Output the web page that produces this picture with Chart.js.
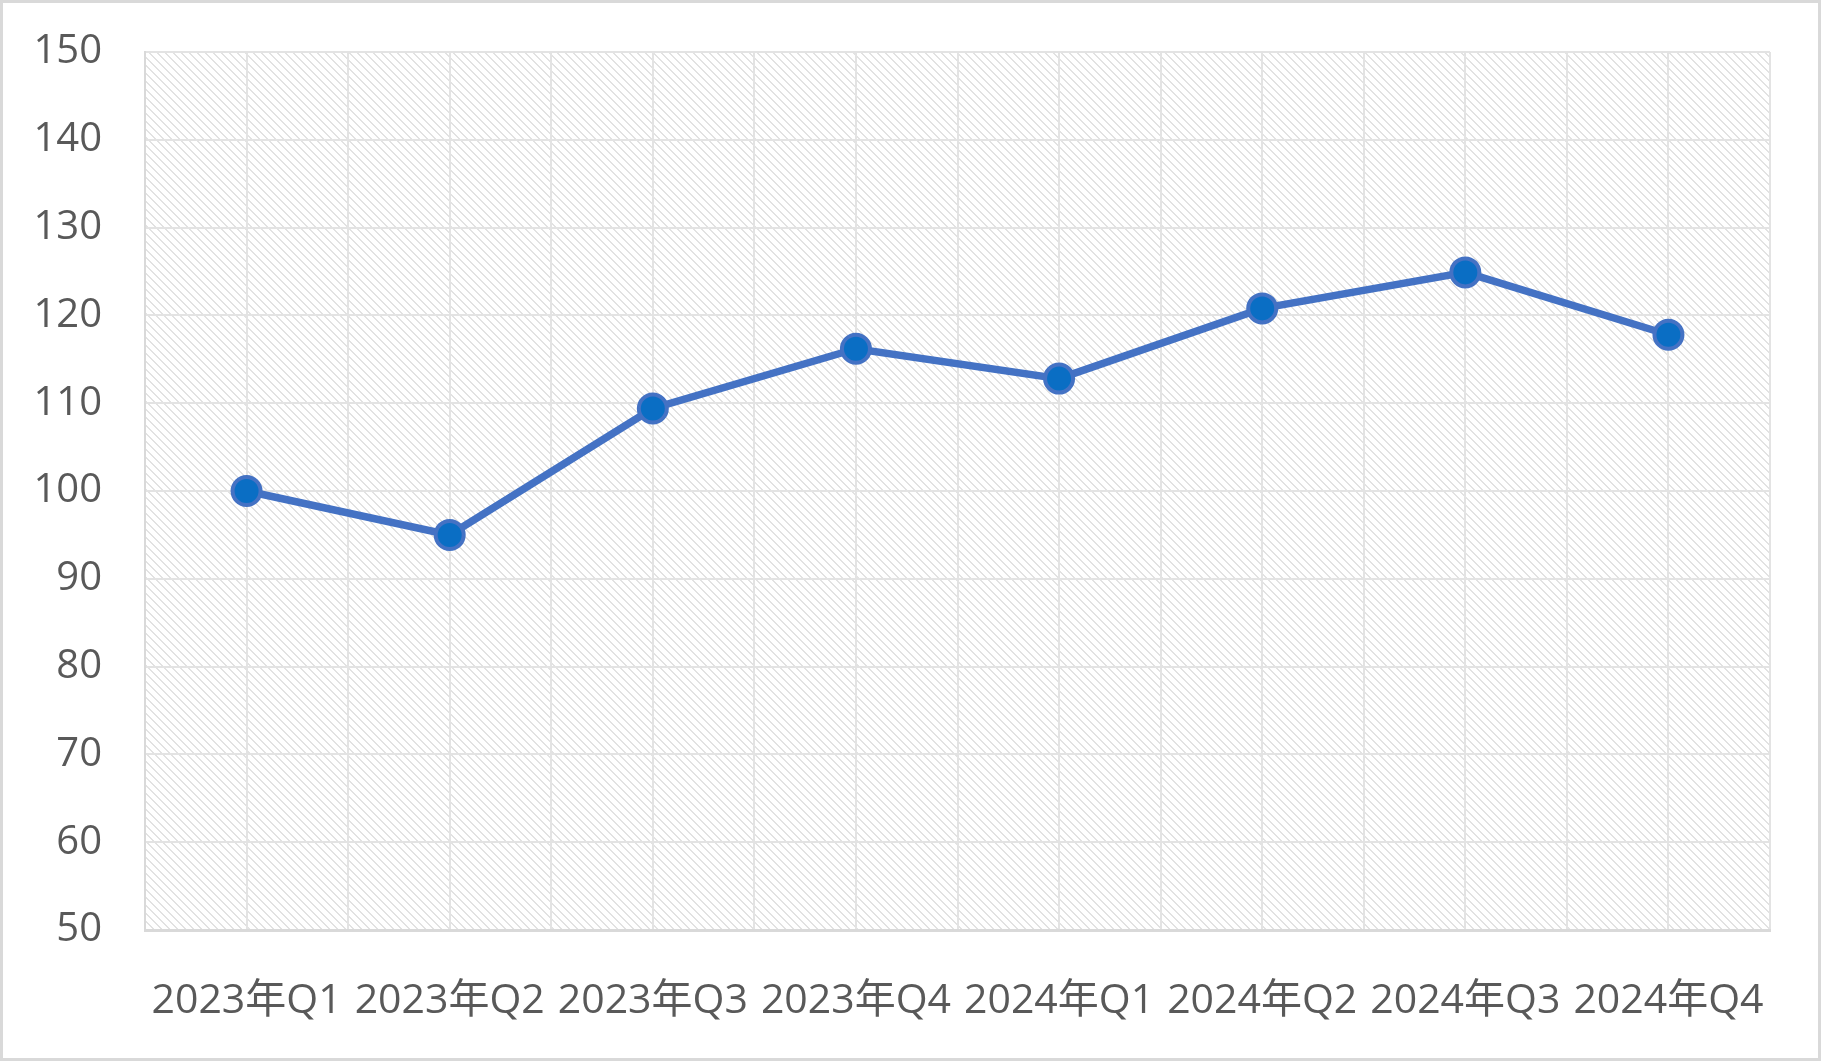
<!DOCTYPE html>
<html>
<head>
<meta charset="utf-8">
<script src="https://cdn.jsdelivr.net/npm/chart.js@4/dist/chart.umd.min.js"></script>
<style>
  html, body { margin: 0; padding: 0; background: #fff; }
  #wrap {
    width: 1821px; height: 1061px; box-sizing: border-box;
    border: 3px solid #d9d9d9; background: #fff;
  }
  canvas { display: block; }
</style>
</head>
<body>
<div id="wrap"><canvas id="chart" width="1815" height="1055"></canvas></div>
<script>
// ข้อมูล
const QUARTERS = ['2023年Q1', '2023年Q2', '2023年Q3', '2023年Q4', '2024年Q1', '2024年Q2', '2024年Q3', '2024年Q4'];
const VALUES = [100, 95, 109.4, 116.2, 112.8, 120.8, 124.9, 117.8];
const Y_MIN = 50;
const Y_MAX = 150;
const Y_STEP = 10;

// สี
const COLORS = {
  line: '#4472c4',
  point: '#0a6ec4',
  grid: '#e3e3e3',
  axis: '#d9d9d9',
  hatch: '#e2e2e2',
  text: '#595959'
};

const FONT = { family: '"Open Sans", "Noto Sans CJK SC", sans-serif', size: 40 };

// ลายเส้นทแยงพื้นหลัง
function makeHatch() {
  const c = document.createElement('canvas');
  c.width = 8;
  c.height = 8;
  const g = c.getContext('2d');
  g.fillStyle = COLORS.hatch;
  for (let y = 0; y < 8; y++) {
    g.fillRect(y % 8, y, 1, 1);
    g.fillRect((y + 1) % 8, y, 1, 1);
  }
  return g.createPattern(c, 'repeat');
}

const hatchBg = {
  id: 'hatchBg',
  beforeDraw(chart) {
    const { ctx, chartArea: a } = chart;
    ctx.save();
    ctx.fillStyle = makeHatch();
    ctx.fillRect(a.left, a.top, a.right - a.left, a.bottom - a.top);
    ctx.restore();
  }
};

const points = VALUES.map((v, i) => ({ x: i, y: v }));

new Chart(document.getElementById('chart'), {
  type: 'line',
  data: {
    datasets: [{
      data: points,
      borderColor: COLORS.line,
      borderWidth: 7.5,
      tension: 0,
      pointRadius: 14,
      pointHoverRadius: 14,
      pointBackgroundColor: COLORS.point,
      pointBorderColor: COLORS.line,
      pointBorderWidth: 4
    }]
  },
  options: {
    responsive: false,
    animation: false,
    events: [],
    layout: { padding: { top: 49, right: 48, left: 0, bottom: 0 } },
    plugins: { legend: { display: false }, tooltip: { enabled: false } },
    scales: {
      x: {
        type: 'linear',
        min: -0.5,
        max: QUARTERS.length - 0.5,
        afterBuildTicks(scale) {
          const t = [];
          for (let v = -0.5; v <= QUARTERS.length - 0.5 + 1e-9; v += 0.5) t.push({ value: v });
          scale.ticks = t;
        },
        afterFit(scale) { scale.height = 128; },
        grid: { color: COLORS.grid, lineWidth: 2, drawTicks: false },
        border: { color: COLORS.axis, width: 3 },
        ticks: {
          autoSkip: false,
          maxRotation: 0,
          padding: 47,
          color: COLORS.text,
          font: { family: FONT.family, size: 41 },
          callback: v => Number.isInteger(v) ? QUARTERS[v] : ''
        }
      },
      y: {
        min: Y_MIN,
        max: Y_MAX,
        afterFit(scale) {
          scale.width = 142;
          scale.paddingTop = 0;
          scale.paddingBottom = 0;
        },
        grid: { color: COLORS.grid, lineWidth: 2, drawTicks: false },
        border: { color: COLORS.axis, width: 2 },
        ticks: {
          stepSize: Y_STEP,
          padding: 43,
          color: COLORS.text,
          font: FONT
        }
      }
    }
  },
  plugins: [hatchBg]
});
</script>
</body>
</html>
